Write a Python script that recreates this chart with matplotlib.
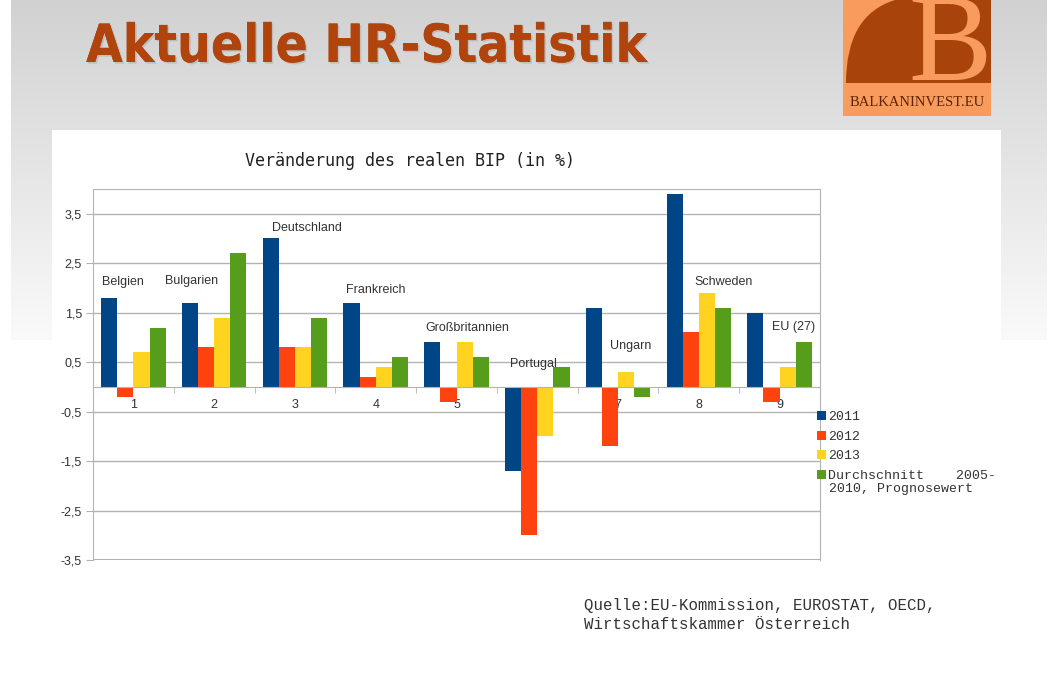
import matplotlib.pyplot as plt
import matplotlib.patches as mpatches
from matplotlib.path import Path
import matplotlib.patheffects as pe
import numpy as np

# --- Daten ---
laender = ['Belgien', 'Bulgarien', 'Deutschland', 'Frankreich', 'Großbritannien',
           'Portugal', 'Ungarn', 'Schweden', 'EU (27)']
kategorien = ['1', '2', '3', '4', '5', '6', '7', '8', '9']
werte_2011 = [1.8, 1.7, 3.0, 1.7, 0.9, -1.7, 1.6, 3.9, 1.5]
werte_2012 = [-0.2, 0.8, 0.8, 0.2, -0.3, -3.0, -1.2, 1.1, -0.3]
werte_2013 = [0.7, 1.4, 0.8, 0.4, 0.9, -1.0, 0.3, 1.9, 0.4]
werte_schnitt = [1.2, 2.7, 1.4, 0.6, 0.6, 0.4, -0.2, 1.6, 0.9]
serien_namen = ['2011', '2012', '2013', 'Durchschnitt    2005-']
serien_zeile2 = '2010, Prognosewert'
y_ticks = [-3.5, -2.5, -1.5, -0.5, 0.5, 1.5, 2.5, 3.5]

# Position der Laender-Beschriftungen (Datenkoordinaten)
label_pos = [(-0.39, 2.11), (0.39, 2.15), (1.72, 3.22), (2.63, 1.95), (3.61, 1.20),
             (4.66, 0.47), (5.90, 0.82), (6.95, 2.13), (7.90, 1.22)]

farben = ['#004586', '#FF420E', '#FFD320', '#579D1C']

W, H = 1058, 675
fig = plt.figure(figsize=(W / 100, H / 100), dpi=100)
fig.patch.set_facecolor('white')

# --- Folienhintergrund (grauer Verlauf) ---
bg = fig.add_axes([0, 0, 1, 1], zorder=0)
bg.set_xlim(0, W)
bg.set_ylim(H, 0)
bg.axis('off')
grad = np.linspace(0, 1, 200).reshape(-1, 1)
grad_img = np.dstack([0.82 + 0.16 * grad] * 3)
bg.imshow(grad_img, extent=[11, 1047, 340, 0], aspect='auto', interpolation='bilinear')
bg.add_patch(mpatches.Rectangle((52, 130), 949, 545, facecolor='white', edgecolor='none'))

# Titel
bg.text(86, 47, 'Aktuelle HR-Statistik', fontsize=38, fontweight='bold',
        family='DejaVu Sans', stretch='condensed', color='#B0440C', va='center', ha='left',
        path_effects=[pe.withSimplePatchShadow(offset=(1.2, -1.2), shadow_rgbFace='#888888', alpha=0.3),
                      pe.Normal()])

# Diagrammtitel und Quelle
bg.text(410, 161, 'Veränderung des realen BIP (in %)', fontsize=12, family='DejaVu Sans Mono',
        color='#222222', ha='center', va='center')
bg.text(584, 615, 'Quelle:EU-Kommission, EUROSTAT, OECD,\nWirtschaftskammer Österreich',
        fontsize=11.3, family='Liberation Mono', color='#333333', ha='left', va='center',
        linespacing=1.3)

# --- Logo ---
logo = fig.add_axes([843 / W, 1 - 116 / H, 148 / W, 116 / H], zorder=2)
logo.set_xlim(0, 148)
logo.set_ylim(116, 0)
logo.axis('off')
logo.add_patch(mpatches.Rectangle((0, 0), 148, 116, facecolor='#F99B5C', edgecolor='none'))
verts = [(3, 83), (3, 15), (52, 0), (148, 0), (148, 83), (3, 83)]
codes = [Path.MOVETO, Path.CURVE3, Path.CURVE3, Path.LINETO, Path.LINETO, Path.CLOSEPOLY]
logo.add_patch(mpatches.PathPatch(Path(verts, codes), facecolor='#A8430C', edgecolor='none'))
logo.text(107, 80, 'B', fontsize=90, family='Liberation Serif', color='#F99B5C',
          ha='center', va='baseline', clip_on=True)
logo.text(74, 103, 'BALKANINVEST.EU', fontsize=10.5, family='Liberation Serif',
          color='#5E2404', ha='center', va='center')

# --- Balkendiagramm ---
ax = fig.add_axes([93 / W, 1 - 560 / H, 727 / W, 371 / H], zorder=1)
x = np.arange(len(kategorien))
breite = 0.2
serien = [werte_2011, werte_2012, werte_2013, werte_schnitt]
for i, (werte, farbe, name) in enumerate(zip(serien, farben, serien_namen)):
    ax.bar(x + (i - 1.5) * breite, werte, breite, color=farbe, label=name, zorder=3)

ax.set_xlim(-0.5, len(kategorien) - 0.5)
ax.set_ylim(-3.5, 4.0)
ax.set_yticks(y_ticks)
ax.set_yticklabels([f'{v:.1f}'.replace('.', ',') for v in y_ticks], family='Liberation Sans',
                   fontsize=9, color='#333333')
ax.yaxis.grid(True, color='#B3B3B3', linewidth=1, zorder=0)
ax.tick_params(axis='y', length=5, color='#B3B3B3', pad=3)

for s in ['left', 'right', 'top']:
    ax.spines[s].set_color('#B3B3B3')
ax.spines['bottom'].set_position(('data', 0))
ax.spines['bottom'].set_color('#B3B3B3')
ax.spines['bottom'].set_zorder(4)

ax.set_xticks(x)
ax.set_xticklabels(kategorien, family='Liberation Sans', fontsize=9, color='#333333')
ax.set_xticks(np.arange(0.5, len(kategorien) - 1, 1), minor=True)
ax.tick_params(axis='x', which='major', length=0, pad=8.5)
ax.tick_params(axis='x', which='minor', length=4, color='#B3B3B3')
for lbl in ax.get_xticklabels():
    lbl.set_zorder(5)

# untere Rahmenlinie bei -3,5
ax.axhline(-3.5, color='#B3B3B3', linewidth=1.5, zorder=2)

for name, (lx, ly) in zip(laender, label_pos):
    ax.text(lx, ly, name, family='Liberation Sans', fontsize=9, color='#333333',
            ha='left', va='center', zorder=6)

leg = ax.legend(loc='upper left', bbox_to_anchor=(0.996, 0.401), frameon=False,
                prop={'family': 'Liberation Mono', 'size': 9.5}, handlelength=0.7,
                handleheight=0.7, handletextpad=0.15, labelspacing=0.55, borderaxespad=0,
                borderpad=0)
for t in leg.get_texts():
    t.set_color('#333333')

# zweite Zeile des letzten Legendeneintrags
bg.text(829, 489, serien_zeile2, family='Liberation Mono', fontsize=9.5, color='#333333',
        ha='left', va='center')

fig.savefig('out.png', dpi=100)
